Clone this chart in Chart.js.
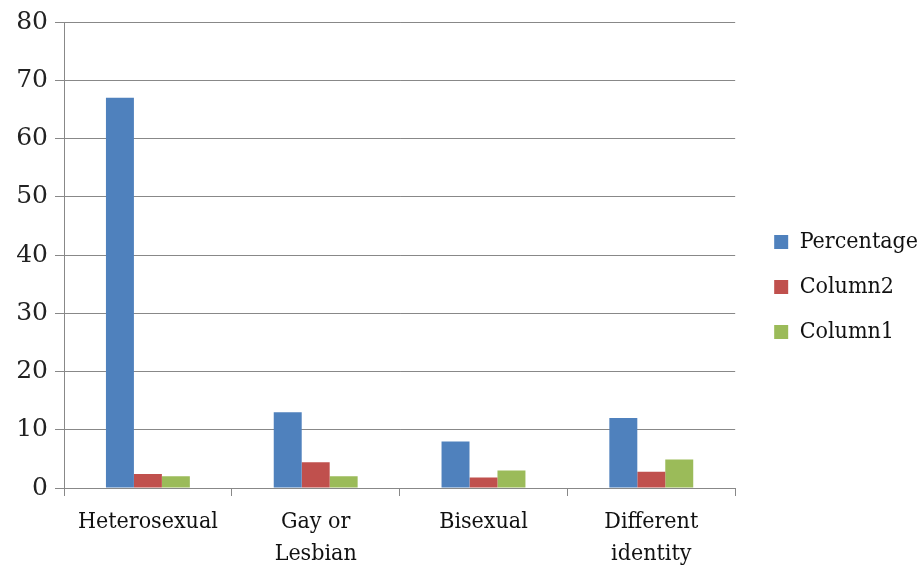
<!DOCTYPE html>
<html>
<head>
<meta charset="utf-8">
<script src="https://cdn.jsdelivr.net/npm/chart.js@4"></script>
<style>
  html, body { margin: 0; padding: 0; background: #fff; }
  #wrap { width: 922px; height: 572px; }
</style>
</head>
<body>
<div id="wrap"><canvas id="chart" width="922" height="572"></canvas></div>
<script>
const categories = [['Heterosexual'], ['Gay or', 'Lesbian'], ['Bisexual'], ['Different', 'identity']];
const percentage = [67, 13, 8, 12];
const column2 = [2.4, 4.4, 1.8, 2.8];
const column1 = [2, 2, 3, 4.9];

const serifCond = "'DejaVu Serif Condensed', 'DejaVu Serif', serif";
const serif = "'DejaVu Serif', serif";

// push the legend a little away from the plot, like the original
const legendShift = {
  id: 'legendShift',
  afterLayout(chart) {
    chart.legend.left += 17;
    chart.legend.right += 17;
  }
};

const chart = new Chart(document.getElementById('chart'), {
  type: 'bar',
  data: {
    labels: categories,
    datasets: [
      { label: 'Percentage', data: percentage, backgroundColor: '#4F81BD' },
      { label: 'Column2', data: column2, backgroundColor: '#C0504D' },
      { label: 'Column1', data: column1, backgroundColor: '#9BBB59' }
    ]
  },
  options: {
    responsive: false,
    animation: false,
    categoryPercentage: 0.5,
    barPercentage: 1.0,
    layout: { padding: { top: 2, right: 11, left: 0, bottom: 0 } },
    plugins: {
      legend: {
        position: 'right',
        labels: {
          boxWidth: 14,
          boxHeight: 14,
          padding: 22,
          color: '#111',
          font: { family: serifCond, size: 23 }
        }
      },
      tooltip: { enabled: false }
    },
    scales: {
      x: {
        grid: { offset: true, drawOnChartArea: false, tickLength: 8, color: '#888' },
        border: { color: '#888' },
        ticks: { color: '#111', font: { family: serifCond, size: 23, lineHeight: 1.35 }, padding: 11, maxRotation: 0 },
        afterFit: scale => { scale.height = 84; }
      },
      y: {
        min: 0,
        max: 80,
        ticks: { stepSize: 10, color: '#222', font: { family: serif, size: 25 }, padding: 7 },
        grid: { color: '#888', tickLength: 9 },
        border: { color: '#888' },
        afterFit: scale => { scale.width = 64; }
      }
    }
  },
  plugins: [legendShift]
});
</script>
</body>
</html>
